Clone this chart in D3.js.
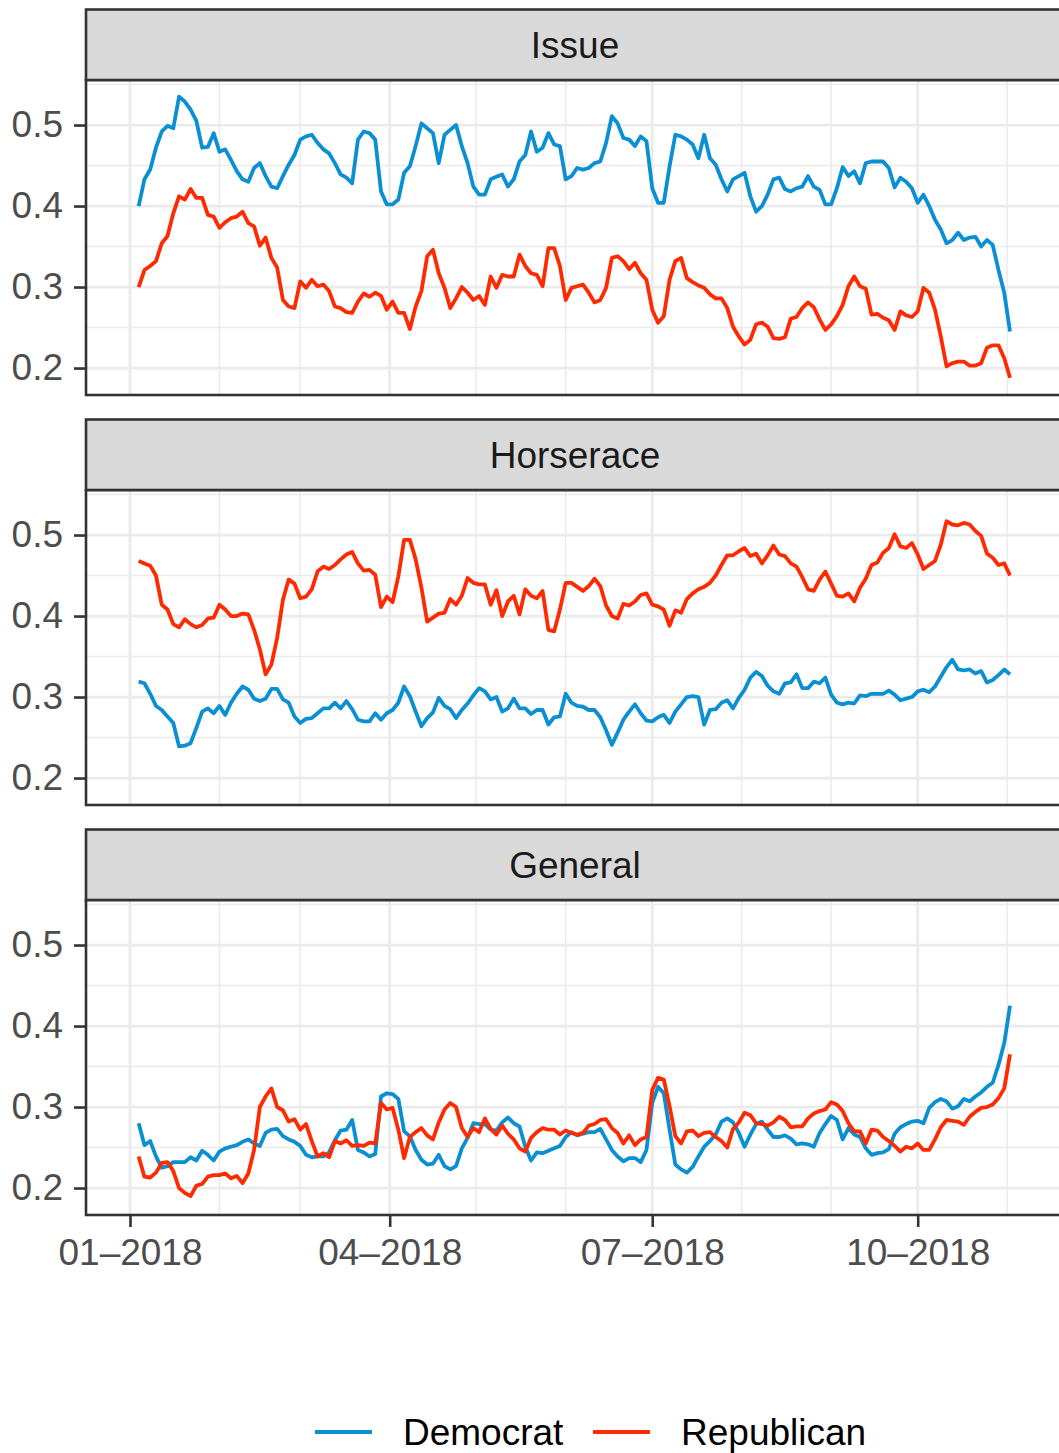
<!DOCTYPE html>
<html>
<head>
<meta charset="utf-8">
<script src="https://cdn.jsdelivr.net/npm/d3@7"></script>
<style>
  body { margin: 0; background: #fff; }
  text { font-family: "Liberation Sans", Arial, sans-serif; }
</style>
</head>
<body>
<div id="chart"></div>
<script>
"use strict";

// facets and parties, in drawing order
var facets = ["Issue", "Horserace", "General"];
var parties = ["Democrat", "Republican"];
var partyColors = ["#0b8fd3", "#ff2a00"];

// one value every 2 days, 2018-01-04 .. 2018-11-02
var firstDate = "2018-01-04", lastDate = "2018-11-03", stepDays = 2;

var issueDem = [0.400,0.433,0.445,0.472,0.492,0.499,0.496,0.535,0.529,0.519,
  0.505,0.472,0.473,0.490,0.467,0.470,0.457,0.443,0.433,0.430,
  0.447,0.453,0.437,0.424,0.422,0.437,0.451,0.463,0.482,0.486,
  0.488,0.478,0.470,0.465,0.453,0.439,0.435,0.428,0.482,0.492,
  0.490,0.482,0.418,0.402,0.402,0.408,0.441,0.449,0.474,0.502,
  0.496,0.490,0.453,0.488,0.494,0.500,0.474,0.453,0.424,0.414,
  0.414,0.433,0.436,0.439,0.424,0.433,0.455,0.463,0.492,0.467,
  0.472,0.490,0.476,0.474,0.433,0.437,0.447,
  0.445,0.447,0.453,0.455,0.478,0.511,0.502,0.484,0.482,0.474,
  0.486,0.480,0.422,0.404,0.404,0.449,0.488,0.486,0.482,0.476,
  0.459,0.488,0.459,0.451,0.433,0.418,0.433,0.437,0.441,0.412,
  0.393,0.400,0.414,0.433,0.435,0.421,0.418,0.422,0.424,0.437,
  0.424,0.420,0.402,0.402,0.422,0.448,0.437,0.443,0.428,0.453,
  0.455,0.455,0.455,0.447,0.423,0.435,0.430,0.422,0.404,0.414,
  0.400,0.383,0.371,0.354,0.358,0.367,0.358,0.361,0.362,0.350,
  0.358,0.352,0.321,0.293,0.245];

var issueRep = [0.300,0.321,0.326,0.332,0.354,0.363,0.391,0.412,0.408,0.421,
  0.410,0.410,0.389,0.387,0.373,0.380,0.385,0.387,0.393,0.379,
  0.375,0.351,0.361,0.336,0.324,0.284,0.276,0.274,0.307,0.299,
  0.309,0.301,0.303,0.295,0.276,0.274,0.269,0.268,0.282,0.292,
  0.288,0.293,0.289,0.272,0.282,0.268,0.268,0.248,0.276,0.295,
  0.338,0.346,0.317,0.299,0.274,0.286,0.300,0.293,0.284,0.289,
  0.278,0.313,0.299,0.315,0.313,0.313,0.340,0.326,0.317,0.315,
  0.301,0.348,0.348,0.326,0.284,0.299,0.301,
  0.303,0.293,0.281,0.284,0.299,0.336,0.338,0.332,0.322,0.330,
  0.317,0.309,0.272,0.256,0.264,0.309,0.332,0.336,0.311,0.306,
  0.302,0.299,0.291,0.286,0.286,0.274,0.251,0.239,0.229,0.235,
  0.254,0.256,0.251,0.237,0.236,0.238,0.261,0.263,0.274,0.281,
  0.275,0.260,0.247,0.254,0.264,0.278,0.301,0.313,0.301,0.298,
  0.266,0.267,0.262,0.259,0.247,0.270,0.265,0.263,0.270,0.299,
  0.293,0.272,0.239,0.202,0.206,0.208,0.208,0.203,0.203,0.206,
  0.225,0.228,0.228,0.212,0.188];

var horseDem = [0.319,0.317,0.304,0.289,0.284,0.276,0.268,0.239,0.240,0.243,
  0.262,0.282,0.286,0.280,0.289,0.278,0.293,0.304,0.313,0.309,
  0.298,0.295,0.298,0.310,0.310,0.297,0.293,0.276,0.268,0.273,
  0.274,0.280,0.286,0.286,0.293,0.286,0.295,0.285,0.272,0.270,
  0.270,0.280,0.272,0.280,0.284,0.293,0.313,0.301,0.282,0.264,
  0.274,0.281,0.299,0.289,0.285,0.274,0.284,0.292,0.302,0.311,
  0.307,0.297,0.300,0.282,0.286,0.298,0.286,0.286,0.279,0.284,
  0.284,0.266,0.275,0.276,0.304,0.293,0.289,
  0.288,0.284,0.284,0.275,0.259,0.241,0.256,0.272,0.282,0.291,
  0.280,0.271,0.270,0.275,0.278,0.268,0.282,0.291,0.300,0.301,
  0.300,0.266,0.284,0.285,0.293,0.296,0.286,0.299,0.309,0.324,
  0.331,0.326,0.314,0.307,0.304,0.317,0.318,0.328,0.311,0.311,
  0.319,0.317,0.324,0.303,0.293,0.291,0.293,0.292,0.302,0.301,
  0.304,0.304,0.304,0.308,0.303,0.296,0.298,0.300,0.307,0.309,
  0.306,0.313,0.325,0.337,0.346,0.334,0.333,0.334,0.329,0.332,
  0.318,0.321,0.327,0.334,0.328];

var horseRep = [0.468,0.465,0.462,0.450,0.414,0.408,0.390,0.386,0.396,0.390,
  0.386,0.389,0.397,0.398,0.414,0.408,0.400,0.400,0.403,0.402,
  0.383,0.359,0.328,0.340,0.373,0.420,0.445,0.440,0.422,0.424,
  0.433,0.455,0.461,0.458,0.463,0.470,0.476,0.479,0.465,0.456,
  0.457,0.451,0.411,0.424,0.417,0.449,0.494,0.494,0.470,0.435,
  0.393,0.398,0.403,0.404,0.421,0.414,0.425,0.447,0.441,0.439,
  0.439,0.414,0.432,0.400,0.418,0.425,0.402,0.433,0.425,0.422,
  0.431,0.383,0.381,0.408,0.441,0.441,0.436,
  0.431,0.437,0.446,0.437,0.413,0.400,0.397,0.415,0.413,0.418,
  0.426,0.428,0.414,0.412,0.408,0.388,0.407,0.404,0.421,0.428,
  0.433,0.436,0.441,0.450,0.463,0.475,0.475,0.480,0.484,0.474,
  0.477,0.465,0.475,0.487,0.476,0.474,0.465,0.461,0.448,0.433,
  0.431,0.445,0.455,0.440,0.425,0.424,0.428,0.418,0.435,0.446,
  0.463,0.466,0.478,0.484,0.501,0.486,0.484,0.490,0.476,0.458,
  0.463,0.468,0.488,0.517,0.513,0.512,0.515,0.513,0.505,0.499,
  0.477,0.472,0.463,0.465,0.450];

var generalDem = [0.280,0.253,0.258,0.239,0.225,0.227,0.232,0.232,0.232,0.238,
  0.234,0.246,0.241,0.234,0.245,0.249,0.251,0.253,0.257,0.260,
  0.255,0.252,0.268,0.272,0.273,0.264,0.260,0.257,0.252,0.241,
  0.238,0.239,0.239,0.244,0.259,0.271,0.272,0.284,0.247,0.244,
  0.239,0.242,0.313,0.317,0.316,0.310,0.270,0.264,0.247,0.235,
  0.229,0.230,0.241,0.227,0.223,0.227,0.249,0.262,0.280,0.279,
  0.279,0.272,0.271,0.281,0.287,0.280,0.276,0.251,0.234,0.244,
  0.243,0.246,0.249,0.252,0.263,0.269,0.265,
  0.267,0.269,0.269,0.273,0.260,0.247,0.239,0.233,0.237,0.237,
  0.232,0.247,0.305,0.325,0.317,0.272,0.229,0.223,0.219,0.226,
  0.239,0.251,0.258,0.266,0.282,0.286,0.281,0.268,0.251,0.266,
  0.279,0.282,0.272,0.263,0.263,0.265,0.261,0.254,0.255,0.254,
  0.251,0.268,0.279,0.289,0.284,0.260,0.274,0.266,0.263,0.249,
  0.241,0.243,0.244,0.248,0.267,0.275,0.279,0.282,0.283,0.280,
  0.299,0.306,0.310,0.307,0.298,0.301,0.310,0.307,0.313,0.318,
  0.325,0.330,0.352,0.379,0.425];

var generalRep = [0.239,0.214,0.213,0.219,0.231,0.232,0.221,0.200,0.194,0.190,
  0.203,0.205,0.214,0.216,0.216,0.218,0.212,0.215,0.206,0.218,
  0.247,0.300,0.313,0.323,0.300,0.296,0.282,0.285,0.272,0.279,
  0.258,0.239,0.243,0.238,0.258,0.255,0.259,0.252,0.253,0.252,
  0.256,0.255,0.305,0.297,0.299,0.272,0.237,0.263,0.269,0.274,
  0.265,0.260,0.281,0.297,0.305,0.300,0.274,0.263,0.274,0.269,
  0.286,0.273,0.266,0.277,0.267,0.260,0.249,0.245,0.262,0.269,
  0.274,0.272,0.272,0.266,0.271,0.268,0.266,
  0.268,0.277,0.279,0.284,0.285,0.274,0.268,0.255,0.265,0.253,
  0.260,0.263,0.321,0.336,0.334,0.301,0.264,0.255,0.270,0.271,
  0.264,0.268,0.269,0.263,0.258,0.250,0.273,0.281,0.293,0.290,
  0.280,0.279,0.277,0.281,0.288,0.284,0.275,0.276,0.276,0.286,
  0.292,0.295,0.297,0.306,0.303,0.295,0.280,0.270,0.270,0.255,
  0.272,0.271,0.263,0.258,0.252,0.245,0.251,0.249,0.255,0.247,
  0.247,0.260,0.275,0.284,0.283,0.282,0.278,0.288,0.294,0.299,
  0.300,0.303,0.311,0.323,0.365];

var yMajor = [0.2, 0.3, 0.4, 0.5];
var yMinor = [0.25, 0.35, 0.45, 0.55];

var seriesByFacet = {
  "Issue":     [issueDem, issueRep],
  "Horserace": [horseDem, horseRep],
  "General":   [generalDem, generalRep]
};


var W = 1059, H = 1453;
var panelLeft = 86, panelRight = 1064;
var panelTop0 = 80, panelH = 315, panelStep = 410, stripH = 70.5;
var FONT = 37;

var svg = d3.select("#chart")
            .append("svg")
            .attr("width", W)
            .attr("height", H)
            .style("display", "block");

svg.append("rect").attr("width", W).attr("height", H).attr("fill", "#fff");

var dates = d3.utcDay.range(new Date(firstDate), new Date(lastDate), stepDays);

var x = d3.scaleUtc()
          .domain([new Date("2017-12-16T18:00:00Z"), new Date("2018-11-20T17:00:00Z")])
          .range([panelLeft, panelRight]);

var xMajor = d3.utcMonth.every(3).range(x.domain()[0], x.domain()[1]);
var xMinor = d3.utcMonth.range(x.domain()[0], x.domain()[1])
               .filter(function (d) { return d.getUTCMonth() % 3 != 0; });

facets.forEach(function (facet, fi) {
  var top = panelTop0 + fi * panelStep;
  var bottom = top + panelH;

  var y = d3.scaleLinear()
            .domain([0.1667, 0.5556])
            .range([bottom, top]);

  var g = svg.append("g");

  // grid
  g.selectAll(".ymin").data(yMinor).enter().append("line")
   .attr("x1", panelLeft).attr("x2", panelRight)
   .attr("y1", y).attr("y2", y)
   .attr("stroke", "#ebebeb").attr("stroke-width", 1.5);
  g.selectAll(".xmin").data(xMinor).enter().append("line")
   .attr("x1", x).attr("x2", x)
   .attr("y1", top).attr("y2", bottom)
   .attr("stroke", "#ebebeb").attr("stroke-width", 1.5);
  g.selectAll(".ymaj").data(yMajor).enter().append("line")
   .attr("x1", panelLeft).attr("x2", panelRight)
   .attr("y1", y).attr("y2", y)
   .attr("stroke", "#ebebeb").attr("stroke-width", 2.8);
  g.selectAll(".xmaj").data(xMajor).enter().append("line")
   .attr("x1", x).attr("x2", x)
   .attr("y1", top).attr("y2", bottom)
   .attr("stroke", "#ebebeb").attr("stroke-width", 2.8);

  // lines
  var line = d3.line()
               .x(function (d, i) { return x(dates[i]); })
               .y(function (d) { return y(d); });

  seriesByFacet[facet].forEach(function (vals, pi) {
    g.append("path")
     .datum(vals)
     .attr("d", line)
     .attr("fill", "none")
     .attr("stroke", partyColors[pi])
     .attr("stroke-width", 3.8)
     .attr("stroke-linejoin", "round")
     .attr("stroke-linecap", "butt");
  });

  // panel border
  g.append("rect")
   .attr("x", panelLeft).attr("y", top)
   .attr("width", panelRight - panelLeft).attr("height", panelH)
   .attr("fill", "none").attr("stroke", "#333333").attr("stroke-width", 2.6);

  // strip
  g.append("rect")
   .attr("x", panelLeft).attr("y", top - stripH)
   .attr("width", panelRight - panelLeft).attr("height", stripH)
   .attr("fill", "#d9d9d9").attr("stroke", "#333333").attr("stroke-width", 2.6);
  g.append("text")
   .attr("x", (panelLeft + panelRight) / 2)
   .attr("y", top - stripH / 2)
   .attr("dy", "0.35em")
   .attr("text-anchor", "middle")
   .attr("fill", "#1a1a1a")
   .style("font-size", FONT + "px")
   .text(facet);

  // y axis
  var yAxis = g.append("g")
               .attr("transform", "translate(" + panelLeft + ",0)")
               .call(d3.axisLeft(y).tickValues(yMajor).tickSize(12).tickPadding(11)
                       .tickFormat(d3.format(".1f")));
  yAxis.select(".domain").remove();
  yAxis.selectAll(".tick line").attr("stroke", "#333333").attr("stroke-width", 2.6);
  yAxis.selectAll(".tick text").attr("fill", "#4d4d4d")
       .style("font-size", FONT + "px").style("font-family", "Liberation Sans, Arial, sans-serif");

  if (fi == facets.length - 1) {
    var xAxis = g.append("g")
                 .attr("transform", "translate(0," + bottom + ")")
                 .call(d3.axisBottom(x).tickValues(xMajor).tickSize(12).tickPadding(12)
                         .tickFormat(d3.utcFormat("%m\u2013%Y")));
    xAxis.select(".domain").remove();
    xAxis.selectAll(".tick line").attr("stroke", "#333333").attr("stroke-width", 2.6);
    xAxis.selectAll(".tick text").attr("fill", "#4d4d4d")
         .style("font-size", FONT + "px").style("font-family", "Liberation Sans, Arial, sans-serif");
  }
});

// legend
var legendX = [315, 593], legendY = 1432;
var legend = svg.selectAll(".legend")
                .data(parties)
                .enter()
                .append("g")
                .attr("transform", function (d, i) { return "translate(" + legendX[i] + "," + legendY + ")"; });
legend.append("line")
      .attr("x1", 0).attr("x2", 57)
      .attr("stroke", function (d, i) { return partyColors[i]; })
      .attr("stroke-width", 3.8);
legend.append("text")
      .attr("x", 88)
      .attr("dy", "0.35em")
      .attr("fill", "#000")
      .style("font-size", FONT + "px")
      .text(function (d) { return d; });
</script>
</body>
</html>
